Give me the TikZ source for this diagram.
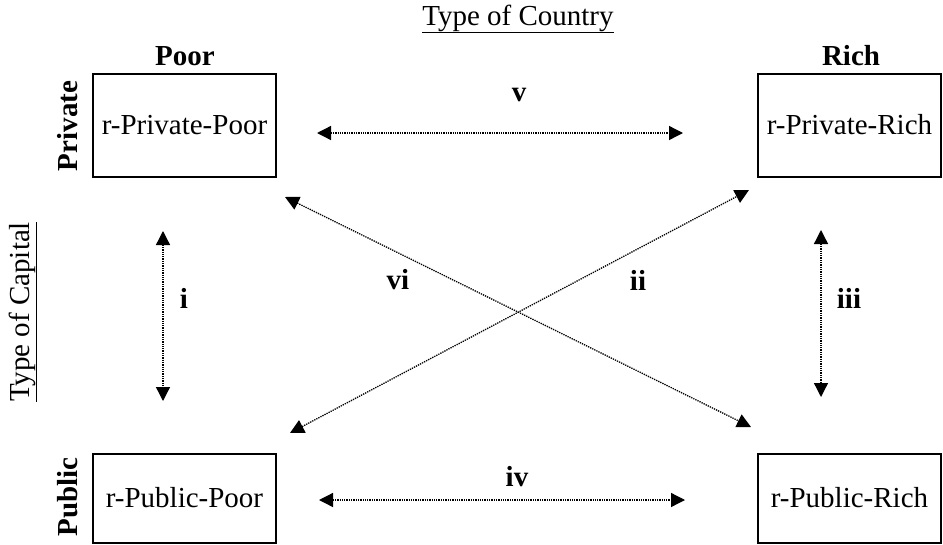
\documentclass[tikz,border=0pt]{standalone}
\usepackage{fontspec}
\setmainfont{Liberation Serif}
\usetikzlibrary{arrows.meta}
\begin{document}
\begin{tikzpicture}[x=1pt,y=-1pt,
  font=\fontsize{29}{34}\selectfont,
  cell/.style={draw,line width=2pt,minimum width=183pt,inner sep=0pt},
  head/.style={font=\fontsize{29}{34}\selectfont\bfseries,inner sep=0pt,anchor=base},
  side/.style={font=\fontsize{29}{34}\selectfont\bfseries,inner sep=0pt,rotate=90,anchor=base},
  lab/.style={font=\fontsize{29}{34}\selectfont\bfseries,inner sep=0pt},
  link/.style={densely dotted,line width=1.3pt,{Triangle[length=14pt,width=14pt]}-{Triangle[length=14pt,width=14pt]}}]
\useasboundingbox (0,0) rectangle (943,544);
% boxes
\node[cell,minimum height=103pt] (PP) at (184.5,125) {r-Private-Poor};
\node[cell,minimum height=103pt] (PR) at (849.5,125) {r-Private-Rich};
\node[cell,minimum height=89pt] (UP) at (184.5,498) {r-Public-Poor};
\node[cell,minimum height=89pt] (UR) at (849.5,498) {r-Public-Rich};
% headings
\node[inner sep=0pt,anchor=base] (tc) at (518,25) {\underline{Type of Country}};
\node[inner sep=0pt,rotate=90,anchor=base] (tk) at (29,312) {\underline{Type of Capital}};
\node[head] (hpoor) at (185,65) {Poor};
\node[head] (hrich) at (851,65) {Rich};
\node[side] (spriv) at (77,126) {Private};
\node[side] (spub) at (77,497) {Public};
% arrow ends
\coordinate (v1) at (317,133);  \coordinate (v2) at (683,133);
\coordinate (w1) at (319,500);  \coordinate (w2) at (685,500);
\coordinate (i1) at (163,231);  \coordinate (i2) at (163,401);
\coordinate (t1) at (821,230);  \coordinate (t2) at (821,397);
\coordinate (x1) at (285,197);  \coordinate (x2) at (751,427);
\coordinate (y1) at (290,433);  \coordinate (y2) at (749,190);
\draw[link] (v1) -- (v2);
\draw[link] (w1) -- (w2);
\draw[link] (i1) -- (i2);
\draw[link] (t1) -- (t2);
\draw[link] (x1) -- (x2);
\draw[link] (y1) -- (y2);
% labels
\node[lab] (lv) at (519,95) {v};
\node[lab] (liv) at (517,477) {iv};
\node[lab] (li) at (184,298) {i};
\node[lab] (liii) at (849,298) {iii};
\node[lab] (lvi) at (398,280) {vi};
\node[lab] (lii) at (638,280) {ii};
\end{tikzpicture}
\end{document}
